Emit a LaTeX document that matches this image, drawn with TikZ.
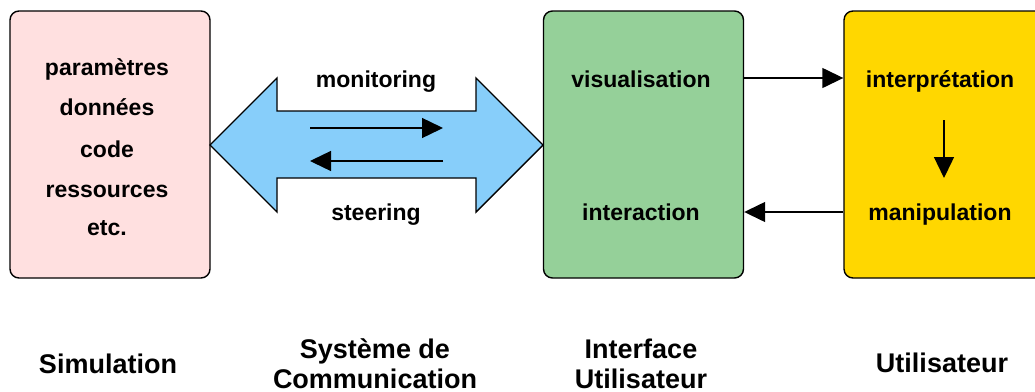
\documentclass[tikz,border=0pt]{standalone}
\usepackage{fontspec}
\setmainfont{Liberation Sans}
\usepackage{tikz}
\usetikzlibrary{arrows.meta}

\definecolor{simpink}{RGB}{255,224,224}
\definecolor{uigreen}{RGB}{149,208,153}
\definecolor{commblue}{RGB}{135,206,250}
\definecolor{usergold}{RGB}{255,215,0}

\begin{document}
\begin{tikzpicture}[x=1pt, y=-1pt, line width=1.4pt,
		box_style/.style={draw=black,rounded corners=9pt,inner sep=0pt,minimum width=200pt,minimum height=267pt},
		txt_style/.style={font=\fontsize{23}{27}\selectfont\bfseries,inner sep=0pt,anchor=base},
		lbl_style/.style={font=\fontsize{27}{31}\selectfont\bfseries,inner sep=0pt,anchor=base},
		edge_style/.style={draw=black,-{Triangle[length=21pt,width=20pt]}}]
		
		\clip (0,0) rectangle (1035,391);
		\fill[white] (0,0) rectangle (1035,391);
		
		\node[box_style,fill=simpink] (sim) at (110,144.5) {};
		\node[box_style,fill=uigreen] (ui) at (643.5,144.5) {};
		\node[box_style,fill=usergold] (user) at (944,144.5) {};
		
		% double arrow
		\filldraw[fill=commblue,draw=black,line join=miter] (210,145) -- (277,78) -- (277,111) -- (476,111) -- (476,78)
			-- (543,145) -- (476,212) -- (476,178) -- (277,178) -- (277,212) -- cycle;
		
		\node[txt_style] (p0) at (107,75)  {paramètres};
		\node[txt_style] (p1) at (107,115) {données};
		\node[txt_style] (p2) at (107,157) {code};
		\node[txt_style] (p3) at (107,197) {ressources};
		\node[txt_style] (p4) at (107,235) {etc.};
		
		\node[txt_style] (mon) at (376,87)  {monitoring};
		\node[txt_style] (ste) at (376,220) {steering};
		\coordinate (c0) at (310,128);
		\coordinate (c1) at (443,128);
		\coordinate (c2) at (443,161);
		\coordinate (c3) at (310,161);
		
		\node[txt_style] (vis) at (641,87)  {visualisation};
		\node[txt_style] (int) at (641,220) {interaction};
		\node[txt_style] (itp) at (940,87)  {interprétation};
		\node[txt_style] (man) at (940,220) {manipulation};
		\coordinate (d0) at (944,120);
		\coordinate (d1) at (944,178);
		
		\node[lbl_style] (l0)  at (108,373) {Simulation};
		\node[lbl_style] (l1a) at (375,358) {Système de};
		\node[lbl_style] (l1b) at (375,388) {Communication};
		\node[lbl_style] (l2a) at (641,358) {Interface};
		\node[lbl_style] (l2b) at (641,388) {Utilisateur};
		\node[lbl_style] (l3)  at (942,372) {Utilisateur};
		
		\draw[edge_style]  (c0) -- (c1);
		\draw[edge_style]  (c2) -- (c3);
		\draw[edge_style]  (ui.east |- 0,78) -- (user.west |- 0,78);
		\draw[edge_style]  (user.west |- 0,212) -- (ui.east |- 0,212);
		\draw[edge_style]  (d0) -- (d1);
		
\end{tikzpicture}
\end{document}
